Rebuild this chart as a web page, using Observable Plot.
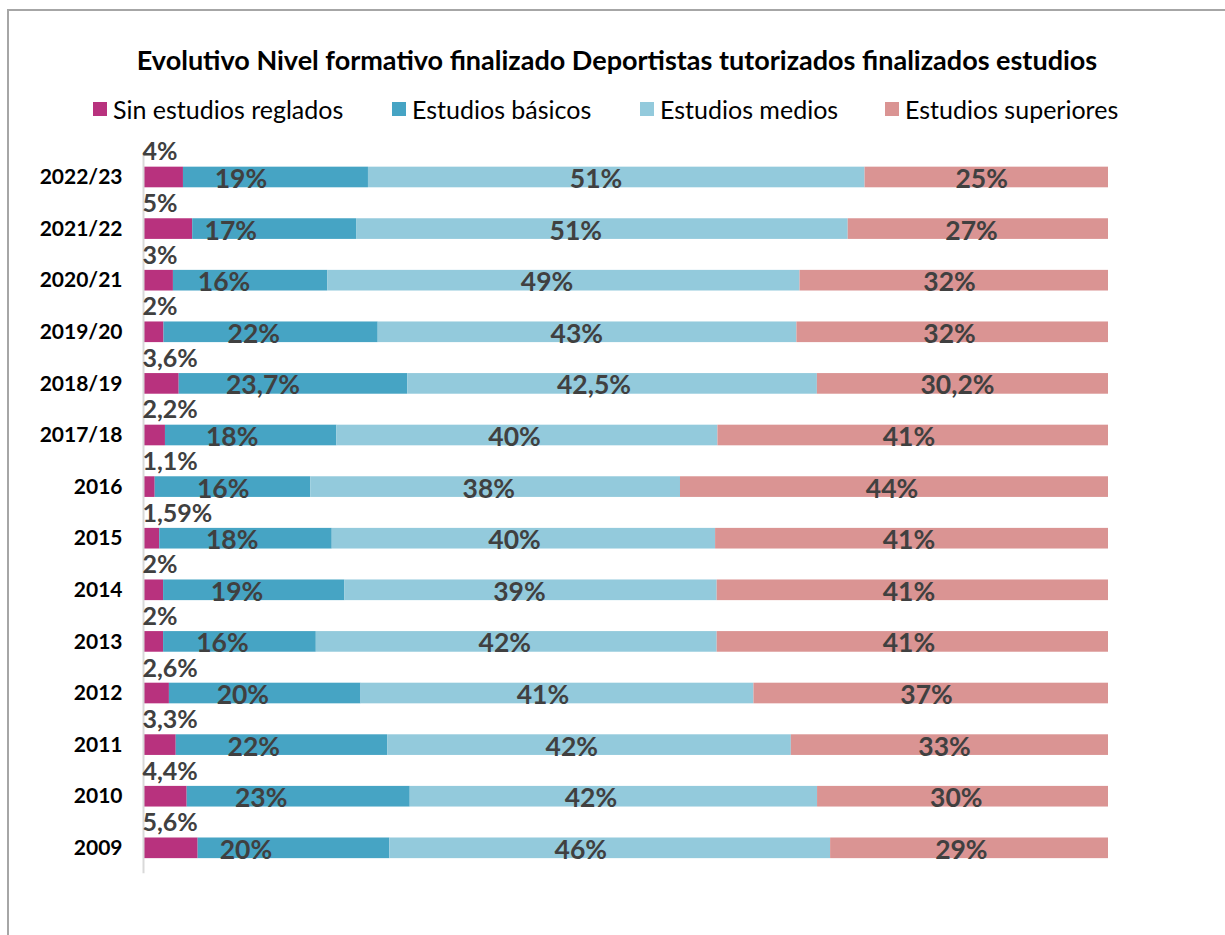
<!DOCTYPE html>
<html>
<head>
<meta charset="utf-8">
<script src="https://cdn.jsdelivr.net/npm/d3@7"></script>
<script src="https://cdn.jsdelivr.net/npm/@observablehq/plot@0.6"></script>
<style>
  html, body { margin: 0; padding: 0; background: #fff; }
  body { width: 1225px; height: 935px; position: relative; overflow: hidden; font-family: Lato, "Open Sans", sans-serif; }
  #frame { position: absolute; left: 7px; top: 9px; width: 1400px; height: 1000px; border-left: 2px solid #a6a6a6; border-top: 2px solid #a6a6a6; }
  #title { position: absolute; left: 0; top: 45px; width: 1234px; text-align: center; font-size: 27px; font-weight: bold; color: #000; line-height: 30px; white-space: nowrap; }
  .leg { position: absolute; top: 94px; height: 30px; display: flex; align-items: center; font-size: 25px; color: #000; white-space: nowrap; }
  .sw { width: 14px; height: 14px; margin-right: 6px; }
  #chart { position: absolute; left: 0; top: 130px; line-height: 0; }
</style>
</head>
<body>
<div id="frame"></div>
<div id="title">Evolutivo Nivel formativo finalizado Deportistas tutorizados finalizados estudios</div>
<div id="legend"></div>
<div id="chart"></div>
<script>
const years = ["2022/23","2021/22","2020/21","2019/20","2018/19","2017/18","2016","2015","2014","2013","2012","2011","2010","2009"];
const sinEstudios = [4, 5, 3, 2, 3.6, 2.2, 1.1, 1.59, 2, 2, 2.6, 3.3, 4.4, 5.6];
const basicos     = [19, 17, 16, 22, 23.7, 18, 16, 18, 19, 16, 20, 22, 23, 20];
const medios      = [51, 51, 49, 43, 42.5, 40, 38, 40, 39, 42, 41, 42, 42, 46];
const superiores  = [25, 27, 32, 32, 30.2, 41, 44, 41, 41, 41, 37, 33, 30, 29];
const categories = ["Sin estudios reglados", "Estudios básicos", "Estudios medios", "Estudios superiores"];
const colors = ["#b8327e", "#46a4c4", "#93cadc", "#da9493"];
const legendX = [93, 392, 640, 885];

const series = [sinEstudios, basicos, medios, superiores];
const data = [];
years.forEach((y, i) => {
  categories.forEach((c, j) => data.push({year: y, cat: c, value: series[j][i]}));
});
const fmt = v => String(v).replace(".", ",") + "%";

// legend
const legend = document.getElementById("legend");
categories.forEach((c, j) => {
  const d = document.createElement("div");
  d.className = "leg";
  d.style.left = legendX[j] + "px";
  d.innerHTML = `<span class="sw" style="background:${colors[j]}"></span><span>${c}</span>`;
  legend.appendChild(d);
});

const first = data.filter(d => d.cat === categories[0]);

const plot = Plot.plot({
  width: 1225,
  height: 760,
  marginLeft: 144,
  marginRight: 117,
  marginTop: 31.5,
  marginBottom: 26.7,
  style: {fontFamily: "Lato, 'Open Sans', sans-serif", background: "transparent"},
  x: {axis: null, domain: [0, 1]},
  y: {domain: years, paddingInner: 0.6, paddingOuter: 0.1, round: false, label: null},
  color: {domain: categories, range: colors},
  marks: [
    Plot.barX(data, Plot.stackX({x: "value", y: "year", z: "cat", fill: "cat", offset: "normalize"})),
    Plot.ruleX([0], {stroke: "#d9d9d9", strokeWidth: 2, dx: -1, insetTop: -7, insetBottom: -10}),
    Plot.axisY({tickSize: 0, tickPadding: 22, fontSize: 21, fontWeight: "bold", color: "#000", label: null}),
    Plot.text(data, Plot.stackX({
      x: "value", y: "year", z: "cat", offset: "normalize",
      filter: d => d.cat !== categories[0],
      text: d => fmt(d.value),
      fill: "#404040", fontSize: 26.5, fontWeight: "bold", dy: 2
    })),
    Plot.text(first, {
      x: () => 0, y: "year", text: d => fmt(d.value),
      textAnchor: "start", dx: -2, dy: -25,
      fill: "#404040", fontSize: 25, fontWeight: "bold"
    })
  ]
});
document.getElementById("chart").appendChild(plot);
</script>
</body>
</html>
